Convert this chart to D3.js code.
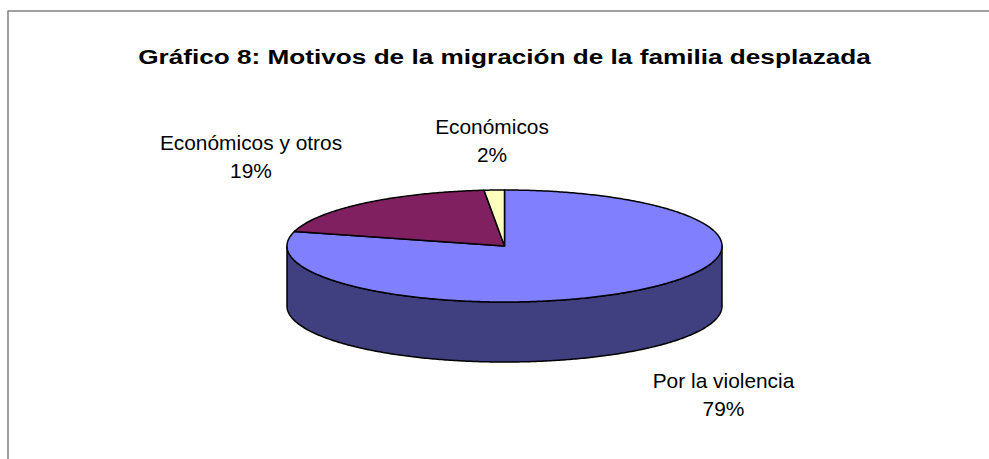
<!DOCTYPE html>
<html>
<head>
<meta charset="utf-8">
<script src="https://cdn.jsdelivr.net/npm/d3@7"></script>
<style>
  html, body { margin: 0; padding: 0; background: #fff; }
  svg { display: block; }
</style>
</head>
<body>
<svg id="chart" width="989" height="459"></svg>
<script>
const title = "Gráfico 8: Motivos de la migración de la familia desplazada";
const categories = ["Por la violencia", "Económicos y otros", "Económicos"];
const values = [79.2, 19.3, 1.5];
const topColors = ["#8080FF", "#802060", "#FFFFC0"];
const sideColors = ["#404080", "#401030", "#808060"];

const W = 989, H = 459;
const svg = d3.select("#chart");

// chart area border
svg.append("rect")
  .attr("x", 8).attr("y", 11)
  .attr("width", W + 10).attr("height", H + 10)
  .attr("fill", "#fff").attr("stroke", "#808080").attr("stroke-width", 1.5);

// stretched text helper: scales glyphs horizontally to a target width
function stretchedText(x, y, str, size, bold, targetWidth, factor) {
  const t = svg.append("text")
    .attr("x", 0).attr("y", 0)
    .attr("text-anchor", "middle")
    .attr("font-family", "Liberation Sans, Arial, sans-serif")
    .attr("font-weight", bold ? "bold" : "normal")
    .attr("font-size", size)
    .attr("fill", "#000")
    .text(str);
  const len = t.node().getComputedTextLength();
  const sx = targetWidth ? targetWidth / len : factor;
  t.attr("transform", `translate(${x},${y}) scale(${sx},1)`);
  return t;
}

stretchedText(504.5, 63.5, title, 21, true, 733, null);

const cx = 504.5, cy = 246, rx = 217.5, ry = 56, depth = 60;
const pie = d3.pie().sort(null).value(d => d)(values);
const total = d3.sum(values);

const px = a => cx + rx * Math.sin(a);
const py = (a, dz = 0) => cy - ry * Math.cos(a) + dz;

function arcPoints(a0, a1, dz) {
  const n = Math.max(2, Math.ceil(Math.abs(a1 - a0) / 0.01));
  const pts = [];
  for (let i = 0; i <= n; i++) {
    const a = a0 + (a1 - a0) * i / n;
    pts.push([px(a), py(a, dz)]);
  }
  return pts;
}

const g = svg.append("g");
// side walls (front-visible part: angles between PI/2 and 3PI/2)
pie.forEach((p, i) => {
  const s = Math.max(p.startAngle, Math.PI / 2);
  const e = Math.min(p.endAngle, 3 * Math.PI / 2);
  if (e <= s) return;
  const topPts = arcPoints(s, e, 0);
  const botPts = arcPoints(e, s, depth);
  g.append("path")
    .attr("d", d3.line()(topPts.concat(botPts)) + "Z")
    .attr("fill", sideColors[i])
    .attr("stroke", "#000").attr("stroke-width", 1.5)
    .attr("stroke-linejoin", "round");
});
// top faces
pie.forEach((p, i) => {
  const pts = [[cx, cy]].concat(arcPoints(p.startAngle, p.endAngle, 0));
  g.append("path")
    .attr("d", d3.line()(pts) + "Z")
    .attr("fill", topColors[i])
    .attr("stroke", "#000").attr("stroke-width", 1.5)
    .attr("stroke-linejoin", "round");
});

// labels
const labelPos = [
  { x: 723.5, y: 388 },
  { x: 251, y: 150 },
  { x: 492, y: 134 }
];
const lineGap = 27.5;
categories.forEach((c, i) => {
  [c, Math.round(values[i] / total * 100) + "%"].forEach((s, k) => {
    stretchedText(labelPos[i].x, labelPos[i].y + k * lineGap, s, 20, false, null, 1.045);
  });
});
</script>
</body>
</html>
